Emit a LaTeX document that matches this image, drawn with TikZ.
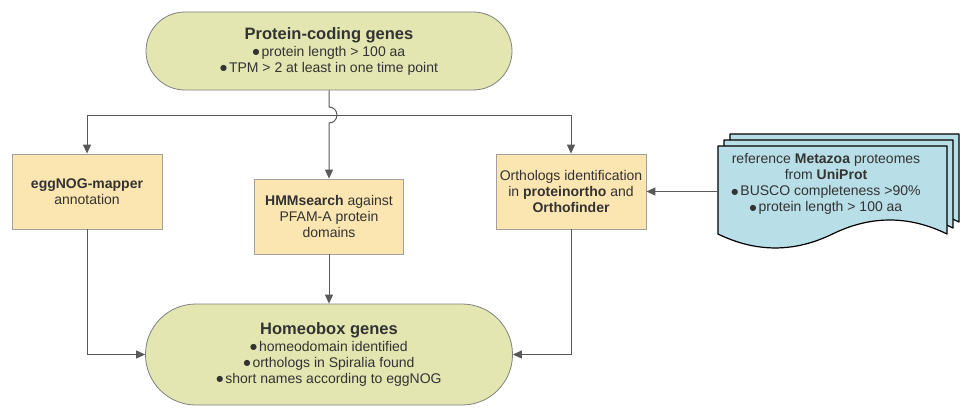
\documentclass[tikz,border=0pt]{standalone}
\usepackage{fontspec}
\setmainfont{Liberation Sans}
\newfontfamily\dejavu{DejaVu Sans}
\usetikzlibrary{arrows.meta}
\definecolor{linec}{HTML}{595959}
\definecolor{txt}{HTML}{333333}
\definecolor{greenfill}{RGB}{227,230,176}
\definecolor{yellowfill}{RGB}{251,229,176}
\definecolor{docfill}{RGB}{184,222,231}
\definecolor{roundborder}{HTML}{808080}
\definecolor{boxborder}{HTML}{A0A0A0}
\newcommand{\bul}{\raisebox{1.6pt}{\dejavu\fontsize{8}{8}\selectfont ●}\hspace{2pt}}
\tikzset{
  rnode/.style={draw=roundborder, fill=greenfill, rounded corners=#1, line width=0.8pt, align=center, inner sep=0pt},
  ybox/.style={draw=boxborder, fill=yellowfill, minimum width=150pt, minimum height=75pt, align=center, line width=0.8pt, inner sep=0pt},
  arr/.style={draw=linec, line width=1pt, -{Triangle[length=9pt,width=8pt]}},
  docstyle/.style={draw=black, fill=docfill, line width=1.2pt, line join=round}
}
\begin{document}
\begin{tikzpicture}[x=1pt,y=-1pt, font=\fontsize{14}{16}\selectfont, text=txt]
\useasboundingbox (0,0) rectangle (973,418);
% document stack
\foreach \o in {12,6,0}{
  \begin{scope}[shift={(718+\o,146-\o)}]
    \draw[docstyle] (0,0) -- (229,0) -- (229,88)
      .. controls (190.83,69.33) and (152.67,69.33) .. (114.5,88)
      .. controls (76.33,106.6) and (38.17,106.6) .. (0,88) -- cycle;
  \end{scope}
}
\node[minimum width=229pt, minimum height=88pt, anchor=north west, inner sep=0pt] (doc) at (718,146) {};
\node[align=center] (doctxt) at (826,184) {reference \textbf{Metazoa} proteomes\\ from \textbf{UniProt}\\ \bul BUSCO completeness >90\%\\ \bul protein length > 100 aa};

\node[rnode=38.9pt, minimum width=366pt, minimum height=78pt] (top) at (329,51)
  {{\fontsize{16.5}{18}\selectfont\bfseries Protein-coding genes}\\[1pt] \bul protein length > 100 aa\\ \bul TPM > 2 at least in one time point};

\node[ybox] (egg) at (87,191.5) {\textbf{eggNOG-mapper}\\ annotation};
\node[ybox, minimum width=149pt] (hmm) at (329,216.5) {\textbf{HMMsearch} against\\ PFAM-A protein\\ domains};
\node[ybox] (orth) at (571,191.5) {Orthologs identification\\ in \textbf{proteinortho} and\\ \textbf{Orthofinder}};

\node[rnode=50.4pt, minimum width=367pt, minimum height=101pt] (bot) at (329,354.5)
  {{\fontsize{16.5}{18}\selectfont\bfseries Homeobox genes}\\[1pt] \bul homeodomain identified\\ \bul orthologs in Spiralia found\\ \bul short names according to eggNOG};

\coordinate (split) at (329,115);
\draw[arr] (top.south) -- ([yshift=8pt]split) arc[start angle=-90, end angle=90, radius=8] -- (hmm.north);
\draw[arr] (split) -| (egg.north);
\draw[arr] (split) -| (orth.north);
\draw[arr] (egg.south) |- (bot.west);
\draw[arr] (orth.south) |- (bot.east);
\draw[arr] (hmm.south) -- (bot.north);
\draw[arr] (doc.west |- orth.east) -- (orth.east);
\end{tikzpicture}
\end{document}
